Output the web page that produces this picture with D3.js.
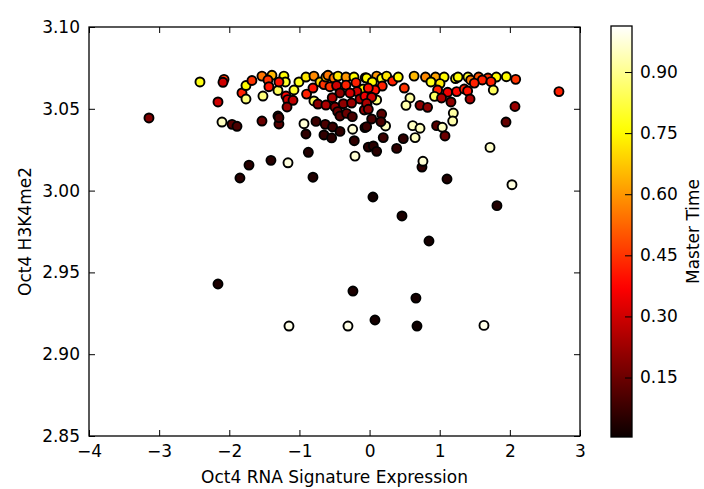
<!DOCTYPE html>
<html>
<head>
<meta charset="utf-8">
<script src="https://d3js.org/d3.v7.min.js"></script>
<style>
body { margin: 0; background: #fff; }
text { font-family: "DejaVu Sans", sans-serif; }
</style>
</head>
<body>
<svg id="chart" width="704" height="489"></svg>
<script>
// data (x = rna signature, y = h3k4me2, t = master time)
var xVals = [
-3.145,-2.418,-2.075,-2.09,-2.161,-2.104,-1.961,-1.890,-1.848,-1.719,-1.406,-1.163,-0.807,-2.161,-1.149,-0.237,-0.308,0.077,0.661,0.676,
1.631,0.048,0.462,0.847,1.816,2.030,1.104,0.747,0.761,2.700,2.073,1.945,1.717,
-1.819,-1.762,-1.677,-1.762,-1.520,-1.534,-1.392,-1.449,-1.435,-1.306,-1.534,-1.306,-1.292,
-1.221,-1.201,-1.292,-1.078,-1.007,-0.907,-0.793,-0.898,-1.192,-1.168,-1.092,-1.177,-0.793,-0.736,-0.807,-0.707,-0.650,-0.622,-0.593,-0.508,
-0.450,-0.336,-0.222,-0.061,-0.565,-0.470,-0.336,-0.194,-0.090,-0.180,-0.279,-0.422,-0.532,-0.622,-0.493,-0.374,-0.256,-0.137,-0.066,-0.037,
-0.075,-0.455,-0.422,-0.327,-0.246,-1.292,-0.935,-0.764,-0.632,-0.527,-0.422,-0.907,-0.650,-0.541,-0.241,-0.218,-0.066,-0.018,-0.873,-0.208,
-0.042,0.101,0.039,0.172,0.243,0.329,0.409,0.495,0.635,0.797,0.940,1.063,1.225,0.875,1.004,0.970,1.113,1.241,0.926,1.026,
1.160,0.181,0.077,-0.018,0.101,0.030,-0.042,0.576,0.519,0.719,0.827,1.194,1.185,-0.018,0.172,0.030,0.228,0.162,-0.042,0.615,
0.719,0.956,1.037,1.075,0.649,0.195,0.386,0.481,0.053,0.101,
1.261,1.403,1.441,1.555,1.688,1.807,1.950,2.083,1.607,1.731,1.493,1.764,1.350,1.398,1.432
];
var yVals = [
3.0444,3.0664,3.0680,3.0662,3.0542,3.0419,3.0405,3.0393,3.0077,3.0156,3.0185,3.0170,3.0082,2.9429,2.9172,2.9386,2.9172,2.9209,2.9343,2.9172,
2.9176,2.9961,2.9845,2.9692,2.9908,3.0036,3.0071,3.0144,3.0179,3.0605,3.0514,3.0419,3.0264,
3.0597,3.0642,3.0673,3.0560,3.0578,3.0700,3.0705,3.0676,3.0635,3.0612,3.0425,3.0456,3.0407,
3.0700,3.0664,3.0664,3.0615,3.0664,3.0694,3.0700,3.0590,3.0578,3.0556,3.0552,3.0511,3.0548,3.0529,3.0627,3.0664,3.0648,3.0694,3.0705,3.0688,
3.0700,3.0694,3.0694,3.0690,3.0635,3.0642,3.0645,3.0660,3.0621,3.0605,3.0597,3.0597,3.0568,3.0523,3.0511,3.0531,3.0535,3.0560,3.0576,3.0529,
3.0493,3.0483,3.0456,3.0472,3.0452,3.0446,3.0409,3.0423,3.0405,3.0389,3.0362,3.0346,3.0340,3.0322,3.0375,3.0305,3.0385,3.0266,3.0234,3.0211,
3.0688,3.0700,3.0664,3.0685,3.0700,3.0670,3.0694,3.0627,3.0700,3.0694,3.0694,3.0694,3.0685,3.0664,3.0654,3.0615,3.0601,3.0605,3.0576,3.0566,
3.0542,3.0639,3.0615,3.0627,3.0554,3.0571,3.0533,3.0566,3.0521,3.0521,3.0509,3.0474,3.0425,3.0497,3.0468,3.0438,3.0395,3.0421,3.0391,3.0397,
3.0381,3.0397,3.0387,3.0334,3.0324,3.0324,3.0258,3.0318,3.0273,3.0240,
3.0694,3.0694,3.0676,3.0694,3.0688,3.0694,3.0696,3.0680,3.0676,3.0666,3.0657,3.0615,3.0621,3.0609,3.0560
];
var timeVals = [
0.18,0.78,0.45,0.30,0.30,0.95,0.12,0.10,0.05,0.05,0.05,0.98,0.04,0.03,0.99,0.03,0.99,0.02,0.02,0.01,
0.99,0.02,0.03,0.02,0.04,0.98,0.04,0.06,0.97,0.42,0.22,0.14,0.96,
0.42,0.75,0.45,0.88,0.88,0.55,0.65,0.45,0.40,0.85,0.15,0.15,0.12,
0.75,0.80,0.40,0.80,0.78,0.72,0.58,0.42,0.38,0.30,0.28,0.22,0.85,0.20,0.40,0.70,0.45,0.65,0.55,0.55,
0.72,0.60,0.75,0.78,0.45,0.30,0.42,0.42,0.75,0.30,0.30,0.20,0.25,0.25,0.20,0.20,0.22,0.25,0.35,0.22,
0.20,0.15,0.12,0.15,0.10,0.10,0.97,0.08,0.10,0.08,0.06,0.06,0.06,0.05,0.97,0.06,0.08,0.05,0.04,0.97,
0.75,0.60,0.75,0.78,0.72,0.42,0.75,0.45,0.65,0.58,0.62,0.75,0.78,0.78,0.72,0.42,0.35,0.38,0.85,0.25,
0.20,0.42,0.40,0.40,0.88,0.30,0.25,0.92,0.93,0.20,0.20,0.92,0.93,0.20,0.12,0.10,0.95,0.10,0.08,0.95,
0.95,0.12,0.95,0.15,0.95,0.08,0.06,0.06,0.05,0.05,
0.75,0.80,0.55,0.50,0.45,0.75,0.75,0.45,0.42,0.42,0.42,0.85,0.42,0.40,0.25
];
var xTicks = [-4, -3, -2, -1, 0, 1, 2, 3];
var yTicks = [2.85, 2.90, 2.95, 3.00, 3.05, 3.10];
var cbTicks = [0.15, 0.30, 0.45, 0.60, 0.75, 0.90];
var timeMin = 0.004, timeMax = 1.013;

var svg = d3.select("#chart");
var plotLeft = 89, plotRight = 580, plotTop = 27, plotBottom = 436;

var xScale = d3.scaleLinear().domain([-4, 3]).range([plotLeft, plotRight]);
var yScale = d3.scaleLinear().domain([2.85, 3.10]).range([plotBottom, plotTop]);

// matplotlib "hot" colormap, built from its channel breakpoints
var hotR = d3.scaleLinear().domain([0, 0.365079, 1]).range([0.0416, 1, 1]).clamp(true);
var hotG = d3.scaleLinear().domain([0, 0.365079, 0.746032, 1]).range([0, 0, 1, 1]).clamp(true);
var hotB = d3.scaleLinear().domain([0, 0.746032, 1]).range([0, 0, 1]).clamp(true);
var norm = d3.scaleLinear().domain([timeMin, timeMax]).range([0, 1]).clamp(true);
function hot(t) {
    var v = norm(t);
    return d3.rgb(hotR(v) * 255, hotG(v) * 255, hotB(v) * 255).formatHex();
}

svg.append("rect").attr("width", 704).attr("height", 489).attr("fill", "#fff");

// points
var pts = xVals.map(function(d, i) { return [d, yVals[i], timeVals[i]]; });
svg.append("g").selectAll("circle")
    .data(pts)
    .enter().append("circle")
    .attr("cx", function(d) { return xScale(d[0]); })
    .attr("cy", function(d) { return yScale(d[1]); })
    .attr("r", 4.5)
    .attr("fill", function(d) { return hot(d[2]); })
    .attr("stroke", "#000")
    .attr("stroke-width", 1.9);

// axes, ticks inward on all four sides
var fontSize = "17px";
svg.append("g").attr("transform", "translate(0," + plotBottom + ")")
    .call(d3.axisBottom(xScale).tickValues(xTicks).tickSize(-6).tickPadding(9)
        .tickFormat(function(d) { return d < 0 ? "\u2212" + Math.abs(d) : d; }));
svg.append("g").attr("transform", "translate(0," + plotTop + ")")
    .call(d3.axisTop(xScale).tickValues(xTicks).tickSize(-6).tickFormat(""));
svg.append("g").attr("transform", "translate(" + plotLeft + ",0)")
    .call(d3.axisLeft(yScale).tickValues(yTicks).tickSize(-6).tickPadding(9).tickFormat(d3.format(".2f")));
svg.append("g").attr("transform", "translate(" + plotRight + ",0)")
    .call(d3.axisRight(yScale).tickValues(yTicks).tickSize(-6).tickFormat(""));

svg.selectAll(".domain").remove();
svg.selectAll(".tick line").attr("stroke", "#000").attr("stroke-width", 1);
svg.selectAll(".tick text").attr("fill", "#000").style("font-size", fontSize);

svg.append("rect")
    .attr("x", plotLeft).attr("y", plotTop)
    .attr("width", plotRight - plotLeft).attr("height", plotBottom - plotTop)
    .attr("fill", "none").attr("stroke", "#000").attr("stroke-width", 1.3);

// axis labels
svg.append("text")
    .attr("x", (plotLeft + plotRight) / 2).attr("y", 483)
    .attr("text-anchor", "middle").style("font-size", fontSize)
    .text("Oct4 RNA Signature Expression");
svg.append("text")
    .attr("transform", "translate(31," + (plotTop + plotBottom) / 2 + ") rotate(-90)")
    .attr("text-anchor", "middle").style("font-size", fontSize)
    .text("Oct4 H3K4me2");

// colorbar
var cbLeft = 611, cbRight = 632, cbTop = 26, cbBottom = 437;
var cbScale = d3.scaleLinear().domain([timeMin, timeMax]).range([cbBottom, cbTop]);
var grad = svg.append("defs").append("linearGradient")
    .attr("id", "hotGrad").attr("x1", 0).attr("y1", 1).attr("x2", 0).attr("y2", 0);
d3.range(0, 1.0001, 0.02).forEach(function(f) {
    grad.append("stop").attr("offset", f)
        .attr("stop-color", hot(timeMin + f * (timeMax - timeMin)));
});
svg.append("rect")
    .attr("x", cbLeft).attr("y", cbTop)
    .attr("width", cbRight - cbLeft).attr("height", cbBottom - cbTop)
    .attr("fill", "url(#hotGrad)").attr("stroke", "#000").attr("stroke-width", 1.3);

var gc = svg.append("g").attr("transform", "translate(" + cbRight + ",0)")
    .call(d3.axisRight(cbScale).tickValues(cbTicks).tickSize(-7).tickPadding(8).tickFormat(d3.format(".2f")));
gc.select(".domain").remove();
gc.selectAll(".tick line").attr("stroke", "#000");
gc.selectAll(".tick text").attr("fill", "#000").style("font-size", fontSize);

svg.append("text")
    .attr("transform", "translate(699," + (cbTop + cbBottom) / 2 + ") rotate(-90)")
    .attr("text-anchor", "middle").style("font-size", fontSize)
    .text("Master Time");
</script>
</body>
</html>
